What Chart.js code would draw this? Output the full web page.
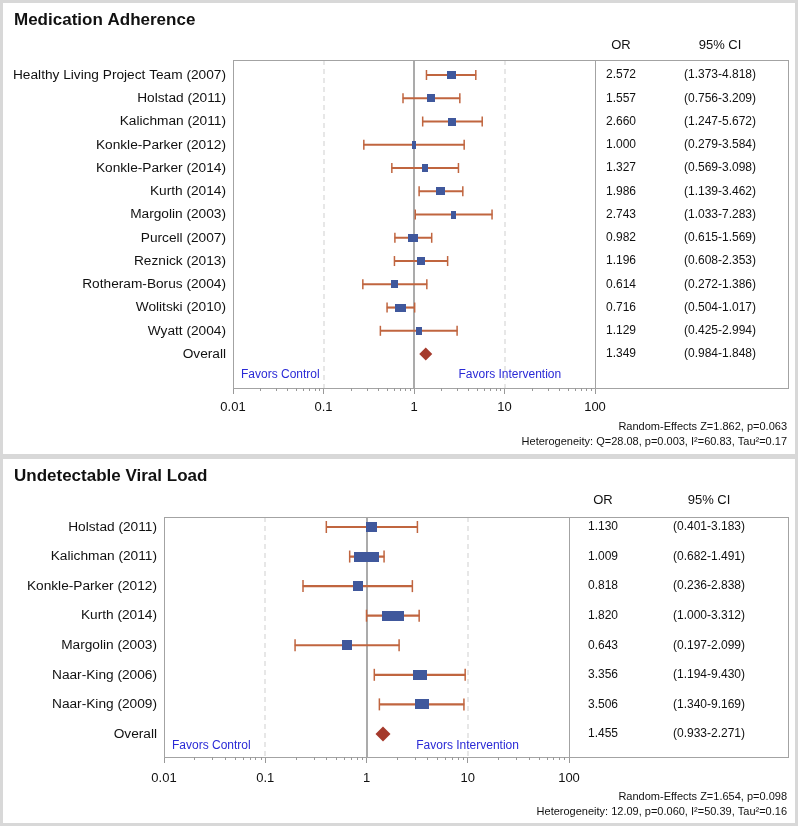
<!DOCTYPE html>
<html lang="en">
<head>
<meta charset="UTF-8">
<title>Forest plots</title>
<script src="https://cdn.jsdelivr.net/npm/chart.js"></script>
<style>
  body { margin: 0; background: #fff; }
  canvas { position: absolute; left: 0; }
  #maChart { top: 0; }
  #vlChart { top: 456px; }
</style>
</head>
<body>
<canvas id="maChart" width="800" height="456"></canvas>
<canvas id="vlChart" width="800" height="372"></canvas>
<script>
// --- Medication Adherence ---
const studiesMA = ['Healthy Living Project Team (2007)', 'Holstad (2011)', 'Kalichman (2011)',
  'Konkle-Parker (2012)', 'Konkle-Parker (2014)', 'Kurth (2014)', 'Margolin (2003)',
  'Purcell (2007)', 'Reznick (2013)', 'Rotheram-Borus (2004)', 'Wolitski (2010)', 'Wyatt (2004)'];
const orMA = [2.572, 1.557, 2.660, 1.000, 1.327, 1.986, 2.743, 0.982, 1.196, 0.614, 0.716, 1.129];
const loMA = [1.373, 0.756, 1.247, 0.279, 0.569, 1.139, 1.033, 0.615, 0.608, 0.272, 0.504, 0.425];
const hiMA = [4.818, 3.209, 5.672, 3.584, 3.098, 3.462, 7.283, 1.569, 2.353, 1.386, 1.017, 2.994];
const weightMA = [9.9, 8.8, 8.8, 4.4, 6.6, 9.9, 5.5, 11.0, 8.8, 7.7, 12.1, 6.6];
const overallMA = [1.349, 0.984, 1.848];
const statsMA = ['Random-Effects Z=1.862, p=0.063',
  'Heterogeneity: Q=28.08, p=0.003, I\u00b2=60.83, Tau\u00b2=0.17'];

// --- Undetectable Viral Load ---
const studiesVL = ['Holstad (2011)', 'Kalichman (2011)', 'Konkle-Parker (2012)', 'Kurth (2014)',
  'Margolin (2003)', 'Naar-King (2006)', 'Naar-King (2009)'];
const orVL = [1.130, 1.009, 0.818, 1.820, 0.643, 3.356, 3.506];
const loVL = [0.401, 0.682, 0.236, 1.000, 0.197, 1.194, 1.340];
const hiVL = [3.183, 1.491, 2.838, 3.312, 2.099, 9.430, 9.169];
const weightVL = [10.4, 23.6, 9.4, 20.8, 9.4, 13.2, 13.2];
const overallVL = [1.455, 0.933, 2.271];
const statsVL = ['Random-Effects Z=1.654, p=0.098',
  'Heterogeneity: 12.09, p=0.060, I\u00b2=50.39, Tau\u00b2=0.16'];

const xTicks = [0.01, 0.1, 1, 10, 100];
const refLines = [0.1, 1, 10];

const FONT = 'Arial, "Liberation Sans", sans-serif';
const BLUE = '#40589c';
const CI_COLOR = '#c0653f';
const DIAMOND = '#a53a2c';
const FAVORS = '#2a2ad6';
const BOX = '#a3a3a3';

function markerBox(w, h) {
  const c = document.createElement('canvas');
  c.width = Math.max(2, Math.round(w));
  c.height = h;
  const g = c.getContext('2d');
  g.fillStyle = BLUE;
  g.fillRect(0, 0, c.width, c.height);
  return c;
}

function forestPlugin(cfg) {
  return {
    id: 'forest',
    beforeDraw(chart) {
      const ctx = chart.ctx;
      ctx.save();
      ctx.strokeStyle = '#d8d8d8';
      ctx.lineWidth = 3;
      ctx.strokeRect(1.5, 1.5, 795, chart.height - cfg.frameCut);
      ctx.restore();
    },
    beforeDatasetsDraw(chart) {
      const ctx = chart.ctx, a = chart.chartArea, xs = chart.scales.x;
      ctx.save();
      // reference lines
      refLines.forEach(v => {
        const px = Math.round(xs.getPixelForValue(v));
        ctx.beginPath();
        if (v === 1) {
          ctx.strokeStyle = '#ababab';
          ctx.lineWidth = 2;
          ctx.setLineDash([]);
        } else {
          ctx.strokeStyle = '#cfcfcf';
          ctx.lineWidth = 1;
          ctx.setLineDash([5, 4]);
        }
        ctx.moveTo(px, a.top);
        ctx.lineTo(px, a.bottom);
        ctx.stroke();
      });
      ctx.setLineDash([]);
      // box + table separator
      ctx.strokeStyle = BOX;
      ctx.lineWidth = 1;
      ctx.strokeRect(Math.round(a.left) + 0.5, Math.round(a.top) + 0.5,
        cfg.tableRight - Math.round(a.left), Math.round(a.bottom - a.top));
      ctx.beginPath();
      ctx.moveTo(Math.round(a.right) + 0.5, a.top);
      ctx.lineTo(Math.round(a.right) + 0.5, a.bottom);
      ctx.stroke();
      // minor ticks
      ctx.strokeStyle = '#999';
      for (let d = -2; d < 2; d++) {
        for (let m = 2; m < 10; m++) {
          const px = Math.round(xs.getPixelForValue(m * Math.pow(10, d))) + 0.5;
          ctx.beginPath();
          ctx.moveTo(px, a.bottom);
          ctx.lineTo(px, a.bottom + 3);
          ctx.stroke();
        }
      }
      ctx.restore();
    },
    afterDraw(chart) {
      const ctx = chart.ctx, a = chart.chartArea, ys = chart.scales.y, xs = chart.scales.x;
      ctx.save();
      ctx.textBaseline = 'middle';
      ctx.fillStyle = '#111';
      ctx.font = 'bold 17px ' + FONT;
      ctx.textAlign = 'left';
      ctx.fillText(cfg.title, 14, 20);

      ctx.font = '13px ' + FONT;
      ctx.textAlign = 'center';
      ctx.fillText('OR', cfg.orX, cfg.headerY);
      ctx.fillText('95% CI', cfg.ciX, cfg.headerY);

      const rows = cfg.labels.concat(['Overall']);
      const ors = cfg.or.concat([cfg.overall[0]]);
      const los = cfg.lo.concat([cfg.overall[1]]);
      const his = cfg.hi.concat([cfg.overall[2]]);
      rows.forEach((lab, i) => {
        const py = ys.getPixelForValue(i);
        ctx.font = '13.7px ' + FONT;
        ctx.textAlign = 'right';
        ctx.fillText(lab, cfg.labelX, py);
        ctx.font = '12px ' + FONT;
        ctx.textAlign = 'center';
        ctx.fillText(ors[i].toFixed(3), cfg.orX, py);
        ctx.fillText('(' + los[i].toFixed(3) + '-' + his[i].toFixed(3) + ')', cfg.ciX, py);
      });

      ctx.fillStyle = FAVORS;
      ctx.font = '12px ' + FONT;
      ctx.textAlign = 'left';
      const fy = ys.getPixelForValue(cfg.favorsRow);
      ctx.fillText('Favors Control', a.left + 8, fy);
      ctx.fillText('Favors Intervention', xs.getPixelForValue(3.1), fy);

      ctx.fillStyle = '#111';
      ctx.font = '11px ' + FONT;
      ctx.textAlign = 'right';
      ctx.fillText(cfg.stats[0], 787, cfg.statsY[0]);
      ctx.fillText(cfg.stats[1], 787, cfg.statsY[1]);
      ctx.restore();
    }
  };
}

function buildForest(id, cfg) {
  const n = cfg.labels.length;
  const markers = cfg.weights.map(w => markerBox(w * cfg.markerScale, cfg.markerH));
  const caps = cfg.lo.map((v, i) => ({ x: v, y: i })).concat(cfg.hi.map((v, i) => ({ x: v, y: i })));
  return new Chart(document.getElementById(id), {
    type: 'scatter',
    data: {
      datasets: [
        { data: cfg.or.map((v, i) => ({ x: v, y: i })), pointStyle: markers, order: 0 },
        { data: [{ x: cfg.overall[0], y: n }], pointStyle: 'rectRot', radius: cfg.diamondR,
          backgroundColor: DIAMOND, borderColor: DIAMOND, borderWidth: 0, order: 0 },
        { data: caps, pointStyle: 'line', rotation: 90, radius: cfg.capR,
          borderColor: CI_COLOR, borderWidth: 1.5, order: 1 },
        { type: 'bar', indexAxis: 'y', data: cfg.lo.map((v, i) => ({ x: [v, cfg.hi[i]], y: i })),
          backgroundColor: CI_COLOR, borderWidth: 0, barThickness: 1.5, order: 2 }
      ]
    },
    options: {
      responsive: false,
      animation: false,
      events: [],
      layout: { padding: { left: cfg.area[0], right: 800 - cfg.area[1], top: cfg.area[2], bottom: cfg.padBottom } },
      plugins: { legend: { display: false }, tooltip: { enabled: false } },
      scales: {
        x: {
          type: 'logarithmic', min: 0.01, max: 100, offset: false,
          afterBuildTicks: s => { s.ticks = xTicks.map(v => ({ value: v })); },
          afterFit: s => { s.height = 30; },
          grid: { drawOnChartArea: false, drawTicks: true, tickLength: 6, color: '#999', offset: false },
          border: { display: true, color: BOX, width: 1 },
          ticks: { autoSkip: false, maxRotation: 0, padding: cfg.tickPad, color: '#111',
            font: { size: 13, family: FONT }, callback: v => String(v) }
        },
        y: { type: 'linear', display: false, reverse: true, offset: false, grid: { offset: false },
          min: cfg.yRange[0], max: cfg.yRange[1] }
      }
    },
    plugins: [forestPlugin(cfg)]
  });
}

buildForest('maChart', {
  title: 'Medication Adherence', labels: studiesMA, or: orMA, lo: loMA, hi: hiMA,
  weights: weightMA, overall: overallMA, stats: statsMA,
  area: [233, 595, 60], padBottom: 38, yRange: [-0.645, 13.46], tickPad: 6,
  markerScale: 0.91, markerH: 8, diamondR: 6.5, capR: 5,
  labelX: 226, orX: 621, ciX: 720, tableRight: 788, headerY: 45,
  favorsRow: 12.9, statsY: [427, 442], frameCut: 2
});

buildForest('vlChart', {
  title: 'Undetectable Viral Load', labels: studiesVL, or: orVL, lo: loVL, hi: hiVL,
  weights: weightVL, overall: overallVL, stats: statsVL,
  area: [164, 569, 61], padBottom: 41, yRange: [-0.338, 7.78], tickPad: 8,
  markerScale: 1.06, markerH: 10, diamondR: 7.5, capR: 6,
  labelX: 157, orX: 603, ciX: 709, tableRight: 788, headerY: 44,
  favorsRow: 7.4, statsY: [341, 356], frameCut: 5
});
</script>
</body>
</html>
